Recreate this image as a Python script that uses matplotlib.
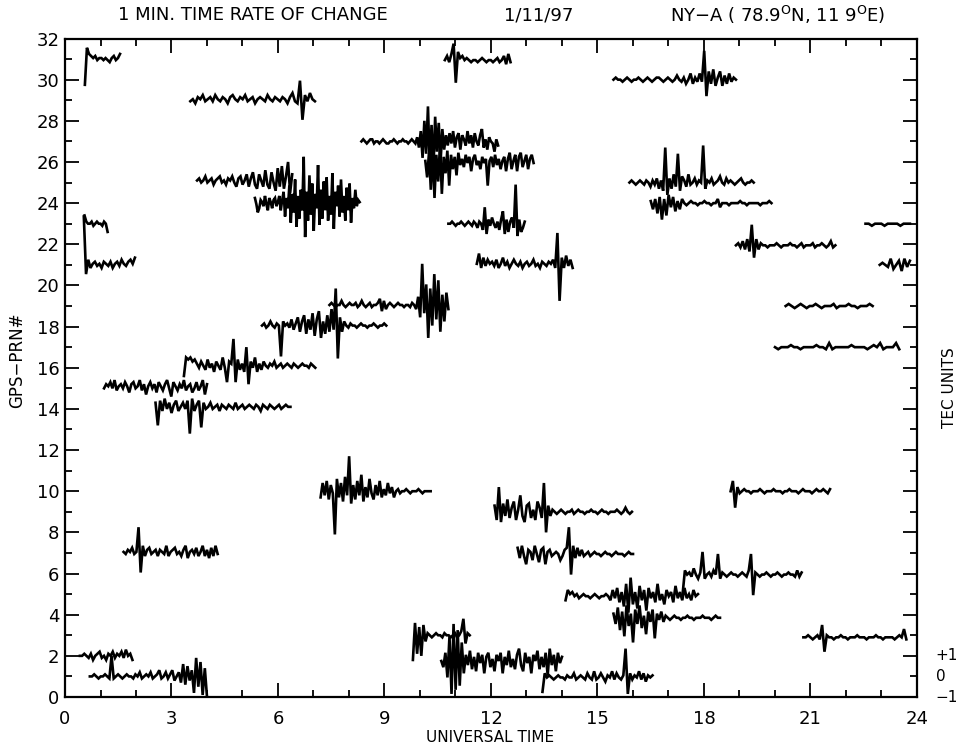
import numpy as np
import matplotlib
matplotlib.use("Agg")
import matplotlib.pyplot as plt
from matplotlib.transforms import blended_transform_factory

plt.rcParams['font.family'] = ['DejaVu Sans']

# ---- trace offsets, in tenths of a TEC unit ----
d31a = [-13, 5, 2, 1, 0, 1, -1, 0, 0, -1, 0, -1, -2, 0, 1, -1, 0, 2]
d29a = [-1,0,-2,1,0,2,-1,0,1,-1,2,0,-1,1,0,-2,1,2,0,-1,1,0,2,-1,0,1,-2,0,1,0,-1,2,0,-1,1,0,-1,1,0,-2,1,3,-1,-2,9,-10,2,-1,3,0,-1]
d25a = [0,1,-1,0,2,-1,0,1,-2,0,1,2,-1,0,-2,1,0,2,-1,-3,1,2,-2,0,3,-3,1,4,-2,-4,3,0,-3,5,-2,-4,4,-1,-5,6,-3,7,-4,2,9,-6,3]
d24a = [2,-1,-5,-3,1,0,-2,3,-1,-4,2,0,-3,1,2,-2,0,3,-4,1,5,-7,2,-3,8,-10,4,-5,11,-12,3,-8,6,-4,22,-17,5,-9,13,-6,9,-14,4,-3,18,-11,6,-8,10,-4,12,-9,3,-6,14,-13,5,-2,8,-7,11,-5,3,-9,7,-4,9,-10,2,-3,6,-2,1,0]
d27a = ([0,1,0,-1,0,1,1,-1,0,0,-1,0,1,0,-1,-1,0,0,1,0,-1,0,0,1,0,0,-1,0,1,0,-1]
        + [2,-3,5,-8,10,-6,17,-12,8,-15,12,-5,9,-10,6,-4]
        + [3,-2,4,-1,5,-3,2,4,-4,3,1,-2,5,-1,3,-3,4,0,-2,3,6,-3,1,-4,2,0,-1,-5,1,-2])
d26a = [0,-8,4,-14,6,-18,3,-10,8,-16,2,-6,5,-12,3,-4,2,-7,4,-2,1,-3,3,-1,2,-5,1,3,-2,0,-4,2,-1,1,-12,0,2,-3,3,-2,1,-4,0,2,-5,1,4,-4,0,3,-5,2,4,-3,0,3,-4,1,3,-1]
d31b = [0,2,-1,3,8,-11,4,1,2,0,1,0,-1,0,0,-1,0,1,0,-1,0,0,-1,0,1,-1,0,2,-2,3,-1]
d23b = [0,0,1,0,-1,0,0,1,0,-1,0,1,0,-1,1,0,-2,1,0,-3,8,-5,2,-1,3,0,-2,1,-3,2,6,-5,2,-4,1,3,-2,19,-6,2,-4,-2,1]
d21b = [0,5,-2,3,-1,2,0,1,-1,2,-2,0,3,-1,1,-2,0,2,0,-1,1,-2,0,1,-1,0,2,-1,0,-2,1,0,-1,1,0,2,-2,15,-18,3,-2,4,-1,2,-2]
d30c = [0,1,0,0,-1,0,1,0,-1,0,0,1,0,-1,0,1,0,-1,0,1,1,0,-1,0,1,0,-1,0,2,0,-1,1,-2,0,3,-2,1,-1,3,-1,14,-8,4,-2,5,-3,1,4,-3,2,-2,3,-1,1,0]
d25c = [0,1,0,-1,0,1,0,-1,1,0,-2,1,-1,2,-3,1,-4,17,-6,2,-3,4,-2,14,-4,3,1,-2,4,-1,0,2,-1,1,0,18,-3,1,0,2,-1,0,1,3,0,-1,2,0,1,0,-1,0,1,2,0,-1,0,0,1,0]
d24c = [1,-3,2,-5,3,-8,2,-6,4,-2,3,-4,1,-3,2,0,-1,0,1,0,0,-1,0,0,1,0,0,-1,0,0,2,-2,0,0,0,-1,0,0,0,0,1,0,0,-1,0,0,0,0,0,-1,0,0,0,1,0]
d22c = [0,1,-1,2,-2,3,-3,10,-6,3,-2,1,0,0,-1,0,0,0,1,0,-1,0,0,0,1,0,0,-1,0,1,-1,0,0,0,1,-1,0,0,1,0,-1,0,2,-1,0]
d23d = [0,0,-1,0,0,0,-1,0,0,0,0,-1,0,0,0]
d21d = [0,1,0,-1,3,-2,0,2,-3,3,-1,2]
d19c = [0,1,0,-1,0,1,0,-1,0,0,1,0,-1,0,0,0,1,-1,0,0,0,1,0,0,-1,0,0,0,1,0]
d17c = [0,-1,0,0,0,1,0,0,-1,0,0,0,0,1,0,0,-1,2,-1,0,0,0,0,0,1,0,0,0,0,-1,0,1,0,2,-1,0,0,0,2,-1]
d19b = [0,1,0,-1,0,0,2,0,-1,0,1,0,0,1,-1,0,2,0,-1,0,1,-1,0,0,1,3,-3,2,-2,0,1,0,-1,0,1,0,0,-1,0,0,-1,1,0,-2,4,-6,20,-4,10,-16,8,-10,15,-7,12,-13,5,-8,6,-2]
d18b = [0,1,-1,0,2,0,-1,1,0,-15,2,0,1,-1,3,-2,1,4,-3,2,5,-4,3,-2,6,-5,3,7,-6,2,-4,5,-3,8,-2,18,-16,4,-3,2,0,-1,1,0,0,-1,0,1,0,0,-1,0,0,1,0,-1,0,0,1,0]
d16a = [-5,4,3,4,2,3,1,-1,2,0,-2,3,-1,1,-3,2,0,-2,4,-1,-8,2,1,13,-8,3,-2,1,-3,9,-9,2,-1,4,-3,1,-2,2,0,-1,1,0,2,-1,0,1,-1,0,1,0,-1,1,0,-1,0,1,0,0,-1,1,0,-1]
d15a = [-1,1,0,2,-1,3,-2,0,1,-1,2,0,-3,1,2,-1,0,3,-2,1,-4,0,2,-1,1,-3,2,0,-2,1,3,-1,-5,2,0,-2,1,-1,3,-2,0,1,-3,-1,2,-2,0,3,-4,1]
d14a = [2,-9,3,-2,4,-1,2,-3,1,3,-2,0,2,-1,3,-13,4,-2,1,3,-10,2,-1,0,2,-1,0,1,-2,1,0,-1,1,0,-1,2,-1,0,1,-1,0,1,0,-1,1,0,-2,1,0,-1,1,0,-1,0,1,-1,0,1,0,0]
d10b = [-3,4,-2,5,-4,3,-1,-21,6,-3,4,-5,7,-2,17,-6,3,-4,5,-2,8,-5,2,-3,6,-1,-4,3,-2,5,-3,1,-2,4,-1,2,-3,0,1,-1,0,0,1,0,-1,0,0,0,1,0,-1,0,0,0,0]
d07a = [0,-1,1,0,2,-1,0,12,-10,3,-2,1,2,-1,0,1,-2,1,0,-1,3,-2,0,1,2,-1,0,-2,1,3,-3,0,1,-1,2,-2,0,3,-2,1,-3,2,-2,3,-1]
d02a = [0,0,1,0,-1,1,-2,0,1,2,-1,0,-2,1,0,2,-1,1,0,2,-1,3,0,1,-2]
d01a = [0,0,1,0,-1,0,0,1,0,-1,10,-1,0,1,0,-1,0,1,0,0,-1,1,0,2,-1,0,1,0,2,-1,0,1,3,-1,0,2,-1,1,3,-2,0,2,-3,6,-4,5,-2,3,-8,9,-5,7,-9,4,-10]
d09b = [3,-4,12,-5,4,-2,6,-3,2,5,-4,1,8,-2,-5,3,4,-3,1,-4,5,2,-3,14,-10,3,-2,1,0,-1,0,1,0,-1,0,0,1,-1,0,1,0,0,-1,0,0,1,0,0,-1,0,1,0,0,-1,0,0,0,1,0,-1,0,2,0,-1,0]
d07b = [3,-2,4,-1,-5,2,1,-3,4,0,-4,2,3,-5,1,2,-1,0,1,0,-3,-1,2,3,13,-10,4,-2,3,-1,2,-1,0,1,-1,0,1,0,0,-1,0,1,0,0,-1,0,1,0,0,0,-1,0,1,0,0]
d05b = [-2,3,1,2,0,1,-1,0,1,0,0,-1,0,1,0,-1,0,0,1,0,-2,3,-1,4,-3,2,-5,6,-8,9,-4,2,-6,5,-2,3,-7,4,-1,2,-3,6,-2,1,-4,3,0,2,-3,5,-1,2,-2,4,-1,1,-2,3,0,1]
d04b = [2,-3,5,-6,3,-9,6,-4,2,-12,4,-3,6,-5,1,-8,3,-2,4,-10,2,-1,3,-2,1,0,-1,0,1,0,0,-1,0,0,1,0,0,-1,0,0,0,1,0,0,0,-1,0,1,0,0]
d06c = [-9,2,0,1,-1,3,0,-2,1,11,-2,0,1,-1,2,0,10,-2,1,0,-1,0,1,0,0,-1,0,1,0,-1,2,10,-10,1,0,-1,0,0,1,0,-1,0,0,1,0,-1,0,0,1,0,0,-1,2,-1,1]
d10c = [0,5,-8,2,-1,0,1,0,0,-1,0,0,0,1,0,-1,0,0,0,1,0,0,0,-1,0,0,1,0,0,0,-1,0,1,0,0,0,-1,0,1,0,0,1,0,-1,1]
d03c = [0,0,1,0,-1,0,1,-1,6,-7,1,0,0,-1,0,0,1,0,0,-1,0,0,0,1,0,0,0,-1,0,0,0,1,0,0,-1,0,0,0,0,-1,0,1,0,4,-1]
d03b = [-12,6,-9,4,-10,5,-3,1,0,-1,0,1,0,0,-1,1,0,0,-1,0,1,-1,0,2,8,-4,1,0]
d02b = [0,-3,4,-8,12,-16,18,-14,15,-12,9,-6,3,-2,5,-4,2,-5,4,-1,3,-6,2,4,-3,1,-5,3,0,4,-6,2,-2,5,-3,1,-4,3,6,-2,-5,4,-1,2,-6,3,0,5,-4,2,-3,4,-7,6,-2,3,-5,4,-1,2]
d01b = [-7,2,0,1,0,-1,0,1,0,0,-1,1,0,0,2,-1,0,1,0,-1,2,0,-1,3,-1,0,2,0,-2,1,0,3,-1,2,0,-1,1,14,-8,2,-1,1,0,3,-1,2,-2,1,0,1]
d23a = [4,1,0,0,1,-1,0,1,0,0,-1,1,0,-4]
d21a = [23,-5,2,-2,0,1,-1,0,-2,1,0,-1,1,-2,0,1,-1,2,0,-1,1,2,0,3]

# trace baseline (PRN), start and end time (UT hours)
TRACE_DATA = [d31a, d29a, d25a, d24a, d27a, d26a, d31b, d23b, d21b, d30c, d25c, d24c,
              d22c, d23d, d21d, d19c, d17c, d19b, d18b, d16a, d15a, d14a, d10b, d07a,
              d02a, d01a, d09b, d07b, d05b, d04b, d06c, d10c, d03c, d03b, d02b, d01b,
              d23a, d21a]
BASE = [31.05, 29.05, 25.1, 24.05, 27.0, 26.05, 30.95, 23.0, 21.05, 30.0, 25.0, 24.0,
        21.95, 23.0, 21.0, 19.0, 17.0, 19.05, 18.05, 16.1, 15.1, 14.1, 10.0, 7.05,
        2.0, 1.0, 9.0, 6.95, 4.9, 3.85, 5.95, 10.0, 2.9, 3.0, 1.75, 0.95,
        23.0, 21.05]
T_START = [0.56, 3.53, 3.72, 5.35, 8.35, 10.15, 10.7, 10.8, 11.6, 15.45, 15.9, 16.5,
           18.9, 22.55, 22.95, 20.3, 20.0, 7.45, 5.55, 3.35, 1.1, 2.55, 7.2, 1.65,
           0.42, 0.7, 12.1, 12.75, 14.1, 15.45, 17.4, 18.75, 20.8, 9.8, 10.6, 13.45,
           0.55, 0.53]
T_END = [1.55, 7.04, 6.4, 8.3, 12.2, 13.2, 12.55, 12.95, 14.3, 18.9, 19.4, 19.9,
         21.7, 23.8, 23.8, 22.75, 23.5, 10.8, 9.05, 7.05, 4.0, 6.35, 10.3, 4.3,
         1.9, 4.0, 15.97, 16.0, 17.83, 18.45, 20.75, 21.55, 23.7, 11.4, 14.0, 16.55,
         1.2, 1.97]

X_MAJOR = list(range(0, 25, 3))
Y_MAJOR = list(range(0, 33, 2))
TEC_LABELS = ['+1', '0', '\u22121']
TEC_POS = [2, 1, 0]

W, H = 962, 747
fig = plt.figure(figsize=(W / 100, H / 100), dpi=100)
ax = fig.add_axes([65 / W, (H - 697) / H, 852 / W, 658.5 / H])

for b, t0, t1, v in zip(BASE, T_START, T_END, TRACE_DATA):
    t = np.linspace(t0, t1, len(v))
    ax.plot(t, b + np.asarray(v) / 10.0, color='black', lw=1.9, solid_joinstyle='miter')

ax.set_xlim(0, 24)
ax.set_ylim(0, 32)
ax.set_xticks(X_MAJOR)
ax.set_xticks(range(0, 25), minor=True)
ax.set_yticks(Y_MAJOR)
ax.set_yticks(range(0, 33), minor=True)
ax.tick_params(which='both', direction='in', top=True, right=True, width=1.3, labelsize=13)
ax.tick_params(which='major', length=10)
ax.tick_params(which='minor', length=5)
ax.tick_params(axis='x', pad=9)
ax.tick_params(axis='y', pad=4)
for s in ax.spines.values():
    s.set_linewidth(1.6)

tr = blended_transform_factory(ax.transAxes, ax.transData)
for lab, p in zip(TEC_LABELS, TEC_POS):
    ax.text(1.022, p, lab, transform=tr, ha='left', va='center', fontsize=11)

fig.text(950 / W, 1 - 388 / H, 'TEC UNITS', rotation=90, ha='center', va='center', fontsize=11)
fig.text(17 / W, 1 - 360 / H, 'GPS\u2212PRN#', rotation=90, ha='center', va='center', fontsize=12)
fig.text(490 / W, 1 - 737 / H, 'UNIVERSAL TIME', ha='center', va='center', fontsize=11)

fig.text(253 / W, 1 - 15 / H, '1 MIN. TIME RATE OF CHANGE', ha='center', va='center', fontsize=13)
fig.text(539 / W, 1 - 15 / H, '1/11/97', ha='center', va='center', fontsize=13)
fig.text(778 / W, 1 - 15 / H, 'NY\u2212A ( 78.9$^{\\mathrm{O}}$N, 11 9$^{\\mathrm{O}}$E)',
         ha='center', va='center', fontsize=13)

fig.savefig('out.png', dpi=100)
